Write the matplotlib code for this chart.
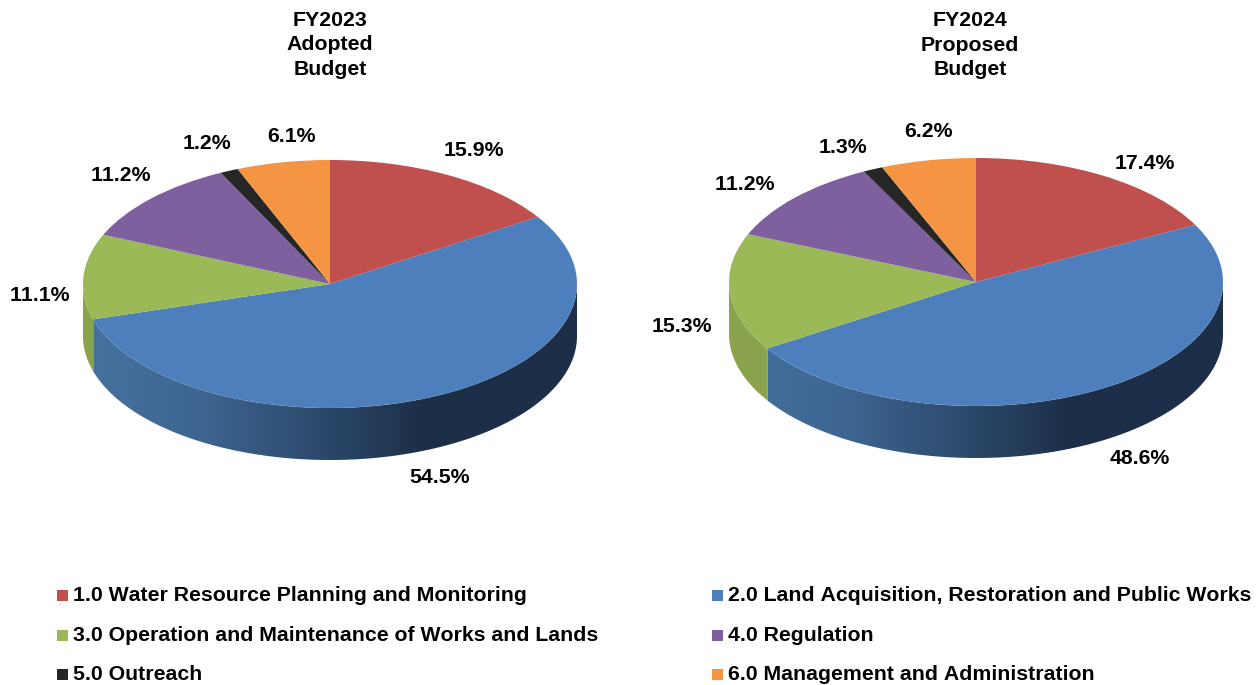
import matplotlib
matplotlib.use("Agg")
import matplotlib.pyplot as plt
import numpy as np
from matplotlib.colors import LinearSegmentedColormap
from matplotlib.patches import Polygon, Rectangle

plt.rcParams['font.family'] = ['Liberation Sans', 'DejaVu Sans']
plt.rcParams['font.weight'] = 'bold'
plt.rcParams['text.kerning_factor'] = 6

W, H = 1259, 685
FS = 15.3

categories = ["1.0 Water Resource Planning and Monitoring",
              "2.0 Land Acquisition, Restoration and Public Works",
              "3.0 Operation and Maintenance of Works and Lands",
              "4.0 Regulation",
              "5.0 Outreach",
              "6.0 Management and Administration"]
fy2023 = [15.9, 54.5, 11.1, 11.2, 1.2, 6.1]
fy2024 = [17.4, 48.6, 15.3, 11.2, 1.3, 6.2]
title_2023 = ["FY2023", "Adopted", "Budget"]
title_2024 = ["FY2024", "Proposed", "Budget"]

colors = ['#bf504d', '#4c7fbb', '#9bb957', '#7f609e', '#262626', '#f59443']
side_colors = ['#8f3b39', None, '#8aa34c', '#5f4776', '#1a1a1a', '#b86f32']
blue_side = LinearSegmentedColormap.from_list('blue_side', [
    (0.00, '#46729f'), (0.24, '#3e6591'), (0.44, '#2f4e72'),
    (0.56, '#26405f'), (0.68, '#1e3049'), (1.00, '#1d2f48')])

RX, RY, DEPTH = 247, 124, 52
d = DEPTH / RY
pad = 0.05


def draw_pie(values, cx, cy):
    # axes sized so that the unit circle comes out as the flattened top of the pie
    x0 = cx - RX * (1 + pad)
    x1 = cx + RX * (1 + pad)
    y_top = cy - RY * (1 + pad)
    y_bot = cy + RY * (1 + d + pad)
    ax = fig.add_axes([x0 / W, 1 - y_bot / H, (x1 - x0) / W, (y_bot - y_top) / H])
    ax.pie(values, colors=colors, startangle=90, counterclock=False, radius=1,
           wedgeprops={'linewidth': 0, 'zorder': 2})

    # sides: the part of each slice that faces the viewer
    ends = 90 - np.cumsum(values) * 3.6
    starts = np.r_[90, ends[:-1]]
    for i in range(len(values)):
        a = np.unwrap(np.radians([starts[i], ends[i]]))
        lo, hi = np.degrees(a[1]) % 360, np.degrees(a[0]) % 360
        if hi <= lo:
            hi += 360
        lo, hi = max(lo, 180), min(hi, 360)
        if hi <= lo:
            continue
        t = np.radians(np.linspace(lo, hi, 200))
        top = np.c_[np.cos(t), np.sin(t)]
        bottom = top[::-1] - [0, d]
        if side_colors[i] is None:
            poly = Polygon(np.r_[top, bottom], closed=True, fc='none', ec='none', zorder=1)
            ax.add_patch(poly)
            grad = np.linspace(0, 1, 256).reshape(1, -1)
            im = ax.imshow(grad, extent=(-1, 1, -1 - d, 0), aspect='auto', cmap=blue_side,
                           zorder=1, interpolation='bilinear')
            im.set_clip_path(poly)
        else:
            ax.add_patch(Polygon(np.r_[top, bottom], closed=True, fc=side_colors[i],
                                 ec='none', zorder=1))

    ax.set_aspect('auto')
    ax.set_xlim(-1 - pad, 1 + pad)
    ax.set_ylim(-1 - d - pad, 1 + pad)
    ax.axis('off')


fig = plt.figure(figsize=(W / 100, H / 100), dpi=100)
draw_pie(fy2023, 330, 284)
draw_pie(fy2024, 976, 282)

# overlay in pixel coordinates for the text and the legend
over = fig.add_axes([0, 0, 1, 1], zorder=5)
over.set_xlim(0, W)
over.set_ylim(H, 0)
over.axis('off')

for line, y in zip(title_2023, [20, 44, 69]):
    over.text(330, y, line, fontsize=FS, ha='center', va='center')
for line, y in zip(title_2024, [20, 45, 69]):
    over.text(970, y, line, fontsize=FS, ha='center', va='center')

pos_2023 = [(473.5, 150), (439.5, 477), (39.5, 295), (121, 175), (206.5, 143), (292, 136)]
pos_2024 = [(1144.5, 163), (1139.5, 458), (681.5, 326), (744.5, 184), (842.5, 147), (928.5, 131)]
for vals, pos in [(fy2023, pos_2023), (fy2024, pos_2024)]:
    for v, (x, y) in zip(vals, pos):
        over.text(x, y, f"{v}%", fontsize=FS, ha='center', va='center')

leg_x = [57, 712, 57, 712, 57, 712]
leg_y = [601, 601, 641, 641, 680, 680]
for name, c, x, y in zip(categories, colors, leg_x, leg_y):
    over.add_patch(Rectangle((x, y - 11), 11, 11, fc=c, ec='none'))
    over.text(x + 16, y, name, fontsize=FS, ha='left', va='baseline')

plt.savefig('out.png', dpi=100)
